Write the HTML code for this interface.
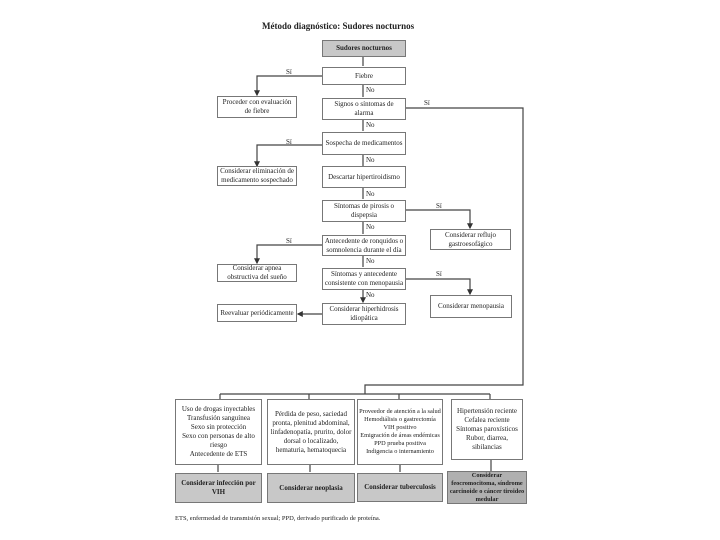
<!DOCTYPE html>
<html><head><meta charset="utf-8"><style>
body{margin:0;background:#fff;}
.w{position:relative;width:720px;height:540px;font-family:"Liberation Serif",serif;color:#222;}
.b{position:absolute;border:1.5px solid #777;background:#fff;font-size:7px;line-height:9px;text-align:center;display:flex;align-items:center;justify-content:center;box-sizing:border-box;padding:1px;overflow:hidden;}
.g{background:#c8c8c8;font-weight:bold;}
.t{position:absolute;font-size:7px;}
svg{position:absolute;left:0;top:0;}
</style></head><body><div class="w">
<svg width="720" height="540" stroke="#444" stroke-width="1.2" fill="none">
<defs><marker id="a" markerWidth="5" markerHeight="5" refX="4" refY="2.5" orient="auto"><path d="M0,0L5,2.5L0,5z" fill="#333" stroke="none"/></marker></defs>
<path d="M363 56V66M363 85V97M363 120V131M363 155V166M363 188V199M363 222V234M363 256V267M363 290V302" marker-end="url(#a)"/>
<path d="M322 76H257V95" marker-end="url(#a)"/>
<path d="M322 145H257V166" marker-end="url(#a)"/>
<path d="M322 245H257V263" marker-end="url(#a)"/>
<path d="M322 314H298" marker-end="url(#a)"/>
<path d="M405 210H470V228" marker-end="url(#a)"/>
<path d="M405 279H470V294" marker-end="url(#a)"/>
<path d="M405 108H523V385H365V394"/>
<path d="M220 394H490M220 394V399M309 394V399M399 394V399M490 394V399" />
<path d="M218 465V472M310 465V472M400 465V472M491 460V472"/>
</svg>
<div class="t" style="left:262px;top:21px;font-size:9px;font-weight:bold">Método diagnóstico: Sudores nocturnos</div>
<div class="b g" style="left:322px;top:40px;width:84px;height:17px">Sudores nocturnos</div>
<div class="b" style="left:322px;top:67px;width:84px;height:18px">Fiebre</div>
<div class="b" style="left:217px;top:96px;width:80px;height:22px">Proceder con evaluación de fiebre</div>
<div class="b" style="left:322px;top:98px;width:84px;height:22px">Signos o síntomas de alarma</div>
<div class="b" style="left:322px;top:132px;width:84px;height:23px">Sospecha de medicamentos</div>
<div class="b" style="left:217px;top:166px;width:80px;height:20px">Considerar eliminación de medicamento sospechado</div>
<div class="b" style="left:322px;top:166px;width:84px;height:22px">Descartar hipertiroidismo</div>
<div class="b" style="left:322px;top:200px;width:84px;height:22px">Síntomas de pirosis o dispepsia</div>
<div class="b" style="left:430px;top:229px;width:81px;height:21px">Considerar reflujo gastroesofágico</div>
<div class="b" style="left:322px;top:235px;width:84px;height:21px">Antecedente de ronquidos o somnolencia durante el día</div>
<div class="b" style="left:217px;top:264px;width:80px;height:18px">Considerar apnea obstructiva del sueño</div>
<div class="b" style="left:322px;top:268px;width:84px;height:22px">Síntomas y antecedente consistente con menopausia</div>
<div class="b" style="left:430px;top:295px;width:82px;height:23px">Considerar menopausia</div>
<div class="b" style="left:217px;top:304px;width:80px;height:18px">Reevaluar periódicamente</div>
<div class="b" style="left:322px;top:303px;width:84px;height:22px">Considerar hiperhidrosis idiopática</div>
<div class="t" style="left:286px;top:68px">Sí</div><div class="t" style="left:366px;top:86px">No</div>
<div class="t" style="left:424px;top:99px">Sí</div><div class="t" style="left:366px;top:121px">No</div>
<div class="t" style="left:286px;top:138px">Sí</div><div class="t" style="left:366px;top:156px">No</div>
<div class="t" style="left:366px;top:190px">No</div><div class="t" style="left:436px;top:202px">Sí</div>
<div class="t" style="left:366px;top:223px">No</div><div class="t" style="left:286px;top:237px">Sí</div>
<div class="t" style="left:366px;top:257px">No</div><div class="t" style="left:436px;top:270px">Sí</div>
<div class="t" style="left:366px;top:291px">No</div>
<div class="b" style="left:175px;top:399px;width:87px;height:66px">Uso de drogas inyectables<br>Transfusión sanguínea<br>Sexo sin protección<br>Sexo con personas de alto riesgo<br>Antecedente de ETS</div>
<div class="b" style="left:267px;top:399px;width:88px;height:66px">Pérdida de peso, saciedad pronta, plenitud abdominal, linfadenopatía, prurito, dolor dorsal o localizado, hematuria, hematoquecia</div>
<div class="b" style="left:357px;top:399px;width:86px;height:66px;font-size:6.3px;line-height:8px">Proveedor de atención a la salud<br>Hemodiálisis o gastrectomía<br>VIH positivo<br>Emigración de áreas endémicas<br>PPD prueba positiva<br>Indigencia o internamiento</div>
<div class="b" style="left:451px;top:399px;width:72px;height:61px">Hipertensión reciente<br>Cefalea reciente<br>Síntomas paroxísticos<br>Rubor, diarrea, sibilancias</div>
<div class="b g" style="left:175px;top:473px;width:87px;height:30px">Considerar infección por VIH</div>
<div class="b g" style="left:267px;top:473px;width:88px;height:30px">Considerar neoplasia</div>
<div class="b g" style="left:357px;top:473px;width:86px;height:29px">Considerar tuberculosis</div>
<div class="b g" style="left:447px;top:471px;width:80px;height:33px;background:#b0b0b0;font-size:6.3px;line-height:8px">Considerar feocromocitoma, síndrome carcinoide o cáncer tiroideo medular</div>
<div class="t" style="left:175px;top:515px;font-size:6.5px">ETS, enfermedad de transmisión sexual; PPD, derivado purificado de proteína.</div>
</div></body></html>
